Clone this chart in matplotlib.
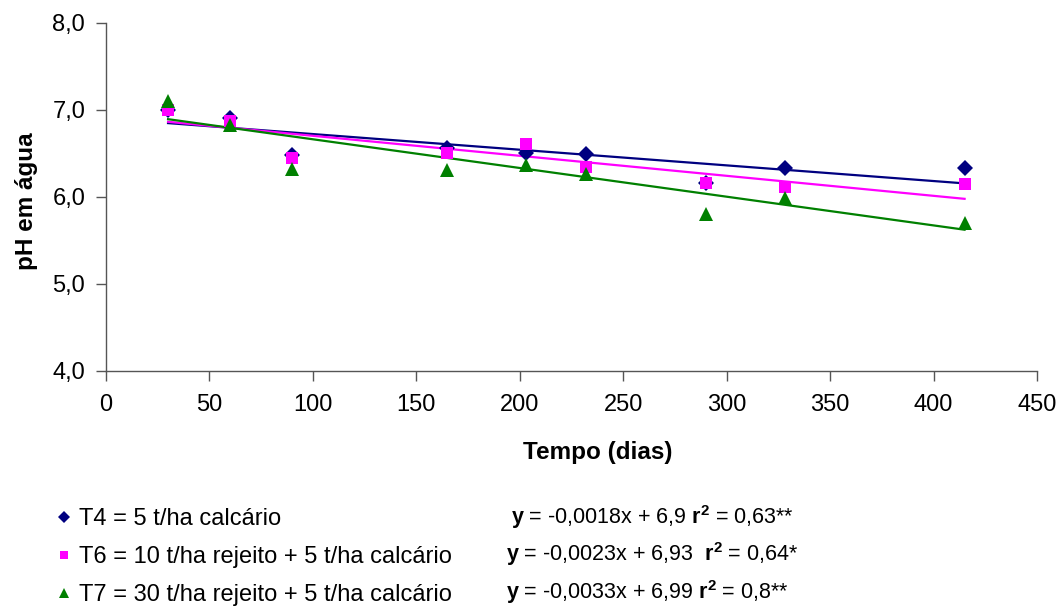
import matplotlib
matplotlib.use("Agg")
import matplotlib.pyplot as plt
import numpy as np

plt.rcParams['font.family'] = ['Liberation Sans', 'DejaVu Sans']
plt.rcParams['mathtext.fontset'] = 'custom'
plt.rcParams['mathtext.rm'] = 'Liberation Sans'
plt.rcParams['mathtext.bf'] = 'Liberation Sans:bold'

# Data
dias = [30, 60, 90, 165, 203, 232, 290, 328, 415]
t4 = [7.00, 6.90, 6.48, 6.56, 6.50, 6.49, 6.16, 6.33, 6.33]
t6 = [7.00, 6.87, 6.44, 6.50, 6.61, 6.34, 6.16, 6.11, 6.15]
t7 = [7.10, 6.82, 6.32, 6.31, 6.36, 6.26, 5.80, 5.98, 5.70]

labels = ["T4 = 5 t/ha calcário",
          "T6 = 10 t/ha rejeito + 5 t/ha calcário",
          "T7 = 30 t/ha rejeito + 5 t/ha calcário"]
slopes = [-0.0018, -0.0023, -0.0033]
intercepts = [6.9, 6.93, 6.99]
equations = [r"$\mathbf{y}$ = -0,0018x + 6,9 $\mathbf{r^2}$ = 0,63**",
             r"$\mathbf{y}$ = -0,0023x + 6,93  $\mathbf{r^2}$ = 0,64*",
             r"$\mathbf{y}$ = -0,0033x + 6,99 $\mathbf{r^2}$ = 0,8**"]
eq_x = [0.483, 0.478, 0.478]

colors = ["#000080", "#FF00FF", "#008000"]
markers = ["D", "s", "^"]
msizes = [8.5, 8, 10]

fig = plt.figure(figsize=(10.58, 6.06), dpi=100)
ax = fig.add_axes([106/1058, 1-370.7/606, (1037-106)/1058, (370.7-22.7)/606])

handles = []
series = [t4, t6, t7]
for i, ys in enumerate(series):
    xs = np.array([min(dias), max(dias)])
    ax.plot(xs, slopes[i]*xs + intercepts[i], color=colors[i], lw=1.6, zorder=2)
for i, ys in enumerate(series):
    h, = ax.plot(dias, ys, linestyle='none', marker=markers[i], color=colors[i],
                 markersize=msizes[i], markeredgewidth=0, zorder=3+i, label=labels[i])
    handles.append(h)

ax.set_xlim(0, 450)
ax.set_ylim(4.0, 8.0)
ax.set_xticks(np.arange(0, 451, 50))
ax.set_yticks([4.0, 5.0, 6.0, 7.0, 8.0])
ax.set_yticklabels(["4,0", "5,0", "6,0", "7,0", "8,0"])
ax.spines['top'].set_visible(False)
ax.spines['right'].set_visible(False)
for s in ['left', 'bottom']:
    ax.spines[s].set_color('#555555')
    ax.spines[s].set_linewidth(1.0)
ax.tick_params(direction='out', length=7, width=1.0, color='#555555', labelsize=17)
ax.tick_params(axis='x', pad=10)
ax.tick_params(axis='y', pad=8)
ax.set_xlabel("Tempo (dias)", fontsize=17.5, fontweight='bold', va='center')
ax.set_ylabel("pH em água", fontsize=17.5, fontweight='bold', va='center')
ax.xaxis.set_label_coords((598-106)/931, (370.7-453)/348)
ax.yaxis.set_label_coords((26-106)/931, (370.7-201)/348)

leg = fig.legend(handles=handles, loc='upper left', bbox_to_anchor=(0.045, 0.177),
                 frameon=False, fontsize=17, markerscale=0.7, handlelength=0.55,
                 handletextpad=0.4, labelspacing=0.67, borderaxespad=0)

for i, eq in enumerate(equations):
    fig.text(eq_x[i], 1 - (517 + 37.5*i)/606, eq, fontsize=15.5, va='center', ha='left')

fig.savefig("out.png", dpi=100)
